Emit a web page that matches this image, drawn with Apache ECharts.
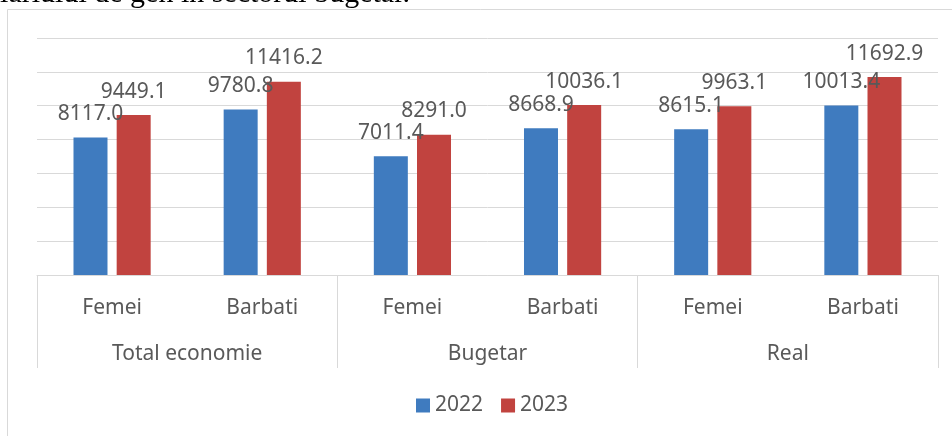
<!DOCTYPE html>
<html>
<head>
<meta charset="utf-8">
<script src="https://cdn.jsdelivr.net/npm/echarts@6/dist/echarts.min.js"></script>
<style>
  html, body { margin: 0; padding: 0; background: #fff; }
  #chart { width: 952px; height: 436px; }
</style>
</head>
<body>
<div id="chart"></div>
<script>
// date
var subCategories = ['Femei', 'Barbati', 'Femei', 'Barbati', 'Femei', 'Barbati'];
var groups = ['Total economie', 'Bugetar', 'Real'];
var values2022 = [8117.0, 9780.8, 7011.4, 8668.9, 8615.1, 10013.4];
var values2023 = [9449.1, 11416.2, 8291.0, 10036.1, 9963.1, 11692.9];
var yTicks = [0, 2000, 4000, 6000, 8000, 10000, 12000, 14000];

var fontFam = '"Noto Sans", sans-serif';
var textColor = '#595959';

var myChart = echarts.init(document.getElementById('chart'));

var labelOpt = {
    show: true,
    position: 'top',
    distance: 13,
    fontSize: 21,
    fontFamily: fontFam,
    color: textColor,
    formatter: function (p) { return p.value.toFixed(1); }
};

var option = {
    animation: false,
    textStyle: { fontFamily: fontFam },
    graphic: [
        {
            type: 'rect',
            shape: { x: 7.5, y: 9.5, width: 1000, height: 600 },
            style: { fill: 'none', stroke: '#d9d9d9', lineWidth: 1 },
            silent: true
        },
        {
            // randul de text taiat de deasupra graficului
            type: 'text',
            x: 410,
            y: 9,
            style: {
                text: 'salariului de gen in sectorul bugetar.',
                font: '30px "Liberation Serif", "Times New Roman", serif',
                fill: '#000',
                align: 'right',
                verticalAlign: 'bottom'
            },
            silent: true
        }
    ],
    legend: {
        data: ['2022', '2023'],
        left: 411,
        top: 390,
        icon: 'rect',
        itemWidth: 14,
        itemHeight: 14,
        itemGap: 18,
        textStyle: { fontSize: 21, color: textColor, fontFamily: fontFam }
    },
    grid: {
        left: 37,
        right: 14,
        top: 38,
        bottom: 161
    },
    xAxis: [
        {
            type: 'category',
            data: subCategories,
            position: 'bottom',
            axisLine: { show: true, lineStyle: { color: '#d9d9d9', width: 1 } },
            axisTick: { show: false },
            axisLabel: { fontSize: 21, color: textColor, margin: 23, fontFamily: fontFam }
        },
        {
            type: 'category',
            data: groups,
            position: 'bottom',
            axisLine: { show: false },
            axisTick: { show: true, length: 93, lineStyle: { color: '#d9d9d9', width: 1 } },
            axisLabel: { fontSize: 21, color: textColor, margin: 69, fontFamily: fontFam }
        }
    ],
    yAxis: {
        type: 'value',
        min: yTicks[0],
        max: yTicks[yTicks.length - 1],
        interval: yTicks[1] - yTicks[0],
        axisLabel: { show: false },
        axisLine: { show: false },
        axisTick: { show: false },
        splitLine: { lineStyle: { color: '#d9d9d9', width: 1 } }
    },
    series: [
        {
            name: '2022',
            type: 'bar',
            xAxisIndex: 0,
            data: values2022,
            barWidth: 34,
            barGap: '27%',
            itemStyle: { color: '#3f7bbf' },
            label: labelOpt
        },
        {
            name: '2023',
            type: 'bar',
            xAxisIndex: 0,
            data: values2023,
            barWidth: 34,
            barGap: '27%',
            itemStyle: { color: '#c1433f' },
            label: labelOpt
        }
    ]
};

myChart.setOption(option);
window.addEventListener('resize', function () {
    myChart.resize();
});
</script>
</body>
</html>
